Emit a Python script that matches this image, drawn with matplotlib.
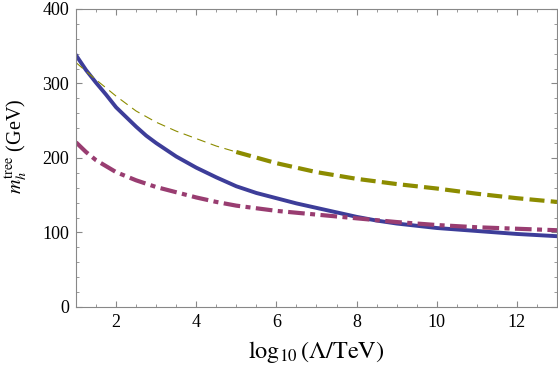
"""
m_h^tree vs log10(Lambda/TeV)
"""

import matplotlib
matplotlib.use('Agg')
import matplotlib.pyplot as plt
from matplotlib.ticker import MultipleLocator

plt.rcParams['font.family'] = ['Liberation Serif', 'DejaVu Serif']
plt.rcParams['mathtext.fontset'] = 'stix'

# 数据
blue_x = [1, 1.25, 1.5, 1.75, 2, 2.25, 2.5, 2.75, 3, 3.5, 4, 4.5, 5, 5.5, 6,
          6.5, 7, 7.5, 8, 8.5, 9, 10, 11, 12, 13]
blue_y = [338, 318, 301, 285, 268, 255, 242, 230, 220, 202, 187, 174, 162, 153, 146,
          139, 133, 127, 121, 116, 112, 106, 102, 98, 95]

magenta_x = [1, 1.25, 1.5, 2, 2.5, 3, 3.5, 4, 4.5, 5, 6, 7, 8, 9, 10, 11, 12, 13]
magenta_y = [221, 208, 197, 181, 170, 161, 154, 147, 141, 136, 129, 124, 119, 114,
             110, 107, 105, 103]

# 橄榄色：细虚线 (1-5) + 粗虚线 (5-13)
olive_thin_x = [1, 1.5, 2, 2.5, 3, 3.5, 4, 4.5, 5]
olive_thin_y = [328, 305, 283, 263, 248, 236, 226, 216, 208]
olive_thick_x = [5, 6, 7, 8, 9, 10, 11, 12, 13]
olive_thick_y = [208, 193, 181, 172, 165, 159, 152, 146, 141]

BLUE = '#3d3d99'
MAGENTA = '#993d71'
OLIVE = '#8c8c00'

fig = plt.figure(figsize=(5.58, 3.73), dpi=100)
ax = fig.add_axes([0.1362, 0.177, 0.862, 0.799])

ax.plot(blue_x, blue_y, color=BLUE, linewidth=2.8)
ax.plot(magenta_x, magenta_y, color=MAGENTA, linewidth=3.0,
        dashes=(4.0, 1.3, 1.2, 1.3))
ax.plot(olive_thin_x, olive_thin_y, color=OLIVE, linewidth=0.8, dashes=(8, 5))
ax.plot(olive_thick_x, olive_thick_y, color=OLIVE, linewidth=3.0, dashes=(3.6, 1.5))

ax.set_xlim(1, 13)
ax.set_ylim(0, 400)
ax.xaxis.set_major_locator(MultipleLocator(2))
ax.xaxis.set_minor_locator(MultipleLocator(0.5))
ax.yaxis.set_major_locator(MultipleLocator(100))
ax.yaxis.set_minor_locator(MultipleLocator(20))
ax.set_xticks([2, 4, 6, 8, 10, 12])

for s in ax.spines.values():
    s.set_color('#888888')
    s.set_linewidth(0.8)
ax.tick_params(which='both', direction='in', top=True, right=True,
               color='#888888', labelsize=13)
ax.tick_params(which='major', length=4.5, width=0.8, pad=5)
ax.tick_params(which='minor', length=2.5, width=0.6)

ax.set_xlabel(r'$\log_{10}(\Lambda/\mathrm{TeV})$', fontsize=17.5, labelpad=6)
ax.set_ylabel(r'$m_h^{\mathrm{tree}}$ (GeV)', fontsize=14.5, labelpad=4)
ax.yaxis.set_label_coords(-0.095, 0.54)

plt.savefig('out.png', dpi=100)
